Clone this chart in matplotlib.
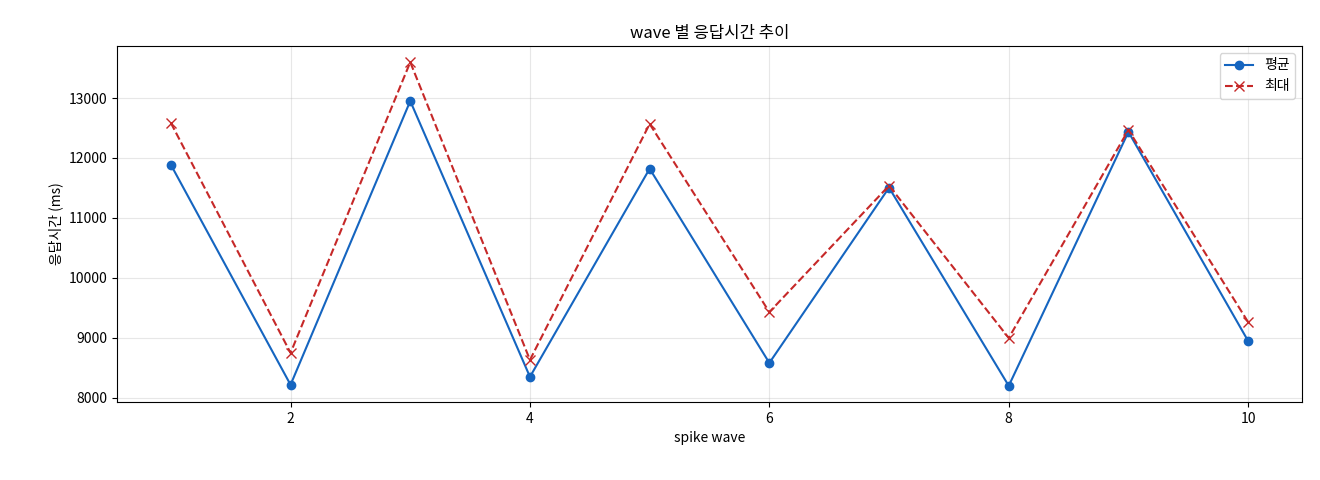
import matplotlib
matplotlib.use("Agg")
import matplotlib.pyplot as plt

plt.rcParams['font.family'] = ['Noto Sans CJK KR', 'DejaVu Sans']

waves = [1, 2, 3, 4, 5, 6, 7, 8, 9, 10]
avg = [11887, 8216, 12950, 8349, 11821, 8581, 11505, 8199, 12435, 8947]
mx = [12585, 8748, 13598, 8631, 12568, 9429, 11538, 8997, 12468, 9262]

fig = plt.figure(figsize=(13.2, 4.8), dpi=100)
ax = fig.add_axes([117/1320, 1-402/480, (1302-117)/1320, (402-46)/480])
ax.plot(waves, avg, '-o', color='#1565c0', label='평균', markersize=6)
ax.plot(waves, mx, '--x', color='#c62828', label='최대', markersize=7)
ax.set_title('wave 별 응답시간 추이', fontsize=12)
ax.set_xlabel('spike wave', fontsize=10)
ax.set_ylabel('응답시간 (ms)', fontsize=10)
ax.grid(True, alpha=0.3)
ax.legend(loc='upper right')
fig.savefig('out.png', dpi=100)
